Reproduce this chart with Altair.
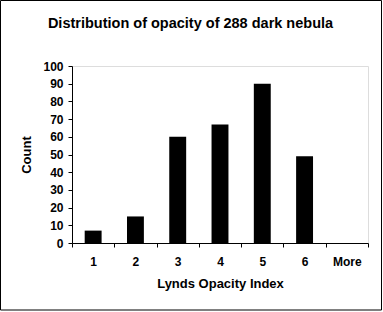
import altair as alt
import pandas as pd

categories = ["1", "2", "3", "4", "5", "6", "More"]
counts = [7, 15, 60, 67, 90, 49, 0]
y_ticks = list(range(0, 101, 10))
title_text = "Distribution of opacity of 288 dark nebula"
x_title = "Lynds Opacity Index"
y_title = "Count"

FONT = "Liberation Sans"
W, H = 296, 177
PAD = {"left": 72, "top": 66, "right": 15, "bottom": 69}

df = pd.DataFrame({"index": categories, "count": counts})

bars = alt.Chart(df).mark_bar(color="black", width=alt.RelativeBandSize(0.4)).encode(
    x=alt.X(
        "index:N",
        sort=categories,
        scale=alt.Scale(paddingInner=0, paddingOuter=0),
        axis=alt.Axis(
            title=x_title,
            labelAngle=0,
            tickBand="extent",
            tickSize=4,
            tickColor="black",
            domainColor="black",
            labelColor="black",
            labelFont=FONT,
            labelFontSize=12,
            labelFontWeight="bold",
            labelPadding=9,
            titleFont=FONT,
            titleFontSize=13,
            titleFontWeight="bold",
            titleColor="black",
            titlePadding=10,
            grid=False,
        ),
    ),
    y=alt.Y(
        "count:Q",
        scale=alt.Scale(domain=[0, 100], nice=False),
        axis=alt.Axis(
            title=y_title,
            values=y_ticks,
            tickSize=4,
            tickColor="black",
            domainColor="black",
            labelColor="black",
            labelFont=FONT,
            labelFontSize=12,
            labelFontWeight="bold",
            labelPadding=5,
            titleFont=FONT,
            titleFontSize=13,
            titleFontWeight="bold",
            titleColor="black",
            titlePadding=9,
            grid=False,
        ),
    ),
)

frame = alt.Chart(pd.DataFrame({"f": [0]})).mark_rect(
    fill="transparent", stroke="black", strokeWidth=1, clip=False
).encode(
    x=alt.value(-71.5), x2=alt.value(309.5), y=alt.value(-65.5), y2=alt.value(244)
)

chart = alt.layer(bars, frame).properties(
    width=W,
    height=H,
    autosize=alt.AutoSizeParams(type="none"),
    padding=PAD,
    title=alt.TitleParams(
        title_text,
        font=FONT,
        fontSize=14.5,
        fontWeight="bold",
        color="black",
        anchor="middle",
        baseline="alphabetic",
        dx=-29.5,
        dy=42,
        offset=0,
    ),
).configure_view(stroke=None).configure(background="white")

chart.save("out.html", embed_options={"renderer": "svg", "actions": False})
